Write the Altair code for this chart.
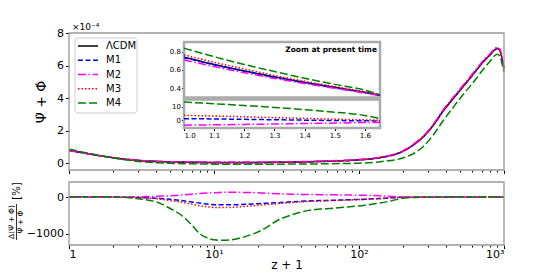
import altair as alt
import pandas as pd

# ---------------- data ----------------
models = ["ΛCDM", "M1", "M2", "M3", "M4"]
line_colors = ["#000000", "#0000ff", "#ff00ff", "#ff0000", "#008000"]
line_dashes = [[1, 0], [5, 2.5], [8, 2.5, 1.5, 2.5], [1.5, 2], [8, 3]]

# main panel: (Psi_dot + Phi_dot) in units of 1e-4 versus z+1
z_main = [1, 1.3, 1.6, 2, 2.5, 3, 4, 5, 7, 10, 14, 20, 30, 45, 65, 100, 140, 200,
          240, 280, 330, 380, 440, 500, 580, 650, 730, 800, 860, 900, 940, 970, 1000]
main_lcdm = [0.78, 0.60, 0.46, 0.33, 0.22, 0.16, 0.10, 0.07, 0.05, 0.035, 0.03, 0.035, 0.05,
             0.08, 0.12, 0.20, 0.34, 0.72, 1.15, 1.65, 2.40, 3.20, 3.90, 4.50, 5.20, 5.75,
             6.30, 6.65, 6.95, 7.05, 6.90, 6.40, 5.80]
main_m1 = [0.77, 0.60, 0.46, 0.33, 0.22, 0.15, 0.09, 0.06, 0.04, 0.02, 0.02, 0.025, 0.045,
           0.075, 0.115, 0.19, 0.33, 0.71, 1.14, 1.64, 2.39, 3.19, 3.90, 4.50, 5.20, 5.75,
           6.30, 6.65, 6.95, 7.05, 6.90, 6.40, 5.80]
main_m2 = [0.76, 0.59, 0.46, 0.33, 0.23, 0.17, 0.11, 0.08, 0.07, 0.06, 0.06, 0.06, 0.07,
           0.10, 0.14, 0.22, 0.36, 0.75, 1.19, 1.70, 2.46, 3.27, 3.98, 4.58, 5.28, 5.83,
           6.37, 6.72, 7.02, 7.12, 6.97, 6.46, 5.85]
main_m3 = [0.79, 0.61, 0.46, 0.33, 0.22, 0.15, 0.09, 0.05, 0.03, 0.015, 0.015, 0.02, 0.04,
           0.07, 0.11, 0.19, 0.33, 0.71, 1.14, 1.64, 2.39, 3.19, 3.90, 4.50, 5.20, 5.75,
           6.30, 6.65, 6.95, 7.05, 6.90, 6.40, 5.80]
main_m4 = [0.85, 0.64, 0.48, 0.32, 0.18, 0.10, 0.02, -0.02, -0.05, -0.07, -0.08, -0.08, -0.07,
           -0.06, -0.04, -0.01, 0.08, 0.31, 0.60, 1.05, 1.80, 2.60, 3.35, 4.00, 4.70, 5.25,
           5.85, 6.25, 6.60, 6.70, 6.55, 6.10, 5.60]

# lower panel: relative difference in percent
z_diff = [1, 1.5, 2, 2.5, 3, 4, 5, 6, 7, 8, 9, 10, 11, 13, 15, 18, 22, 28, 35, 45, 60, 80,
          110, 140, 170, 200, 250, 300, 500, 1000]
diff_m1 = [1, 0.5, 0, -3, -10, -30, -60, -95, -130, -165, -190, -205, -210, -210, -205, -190,
           -170, -150, -125, -105, -90, -75, -58, -38, -18, -4, 0, 0, 0, 0]
diff_m2 = [-3.5, -2, 0, 3, 8, 20, 38, 58, 80, 98, 110, 120, 127, 132, 130, 122, 108, 88, 78,
           70, 64, 58, 48, 34, 17, 5, 0, 0, 0, 0]
diff_m3 = [3.5, 2, 0.5, -4, -15, -45, -90, -140, -190, -235, -265, -280, -285, -280, -265,
           -240, -210, -175, -145, -118, -100, -82, -60, -36, -16, -4, 0, 0, 0, 0]
diff_m4 = [13, 8, 3, -10, -45, -130, -310, -500, -750, -1000, -1110, -1160, -1170, -1160,
           -1115, -1020, -870, -615, -470, -360, -315, -275, -220, -160, -95, -30, -8, -2, 0, 0]

# inset: zoom at present time
z_zoom = [1.0, 1.1, 1.2, 1.3, 1.4, 1.5, 1.6, 1.65]
zoom_lcdm = [0.74, 0.66, 0.59, 0.525, 0.465, 0.41, 0.355, 0.325]
zoom_m1 = [0.735, 0.657, 0.587, 0.522, 0.462, 0.408, 0.354, 0.325]
zoom_m2 = [0.71, 0.637, 0.57, 0.508, 0.452, 0.40, 0.348, 0.32]
zoom_m3 = [0.765, 0.684, 0.61, 0.54, 0.477, 0.42, 0.362, 0.33]
zoom_m4 = [0.837, 0.745, 0.66, 0.583, 0.51, 0.443, 0.38, 0.33]
zdiff_m1 = [1.2, 1.0, 0.7, 0.4, 0.1, -0.2, -0.4, -0.5]
zdiff_m2 = [-3.7, -3.4, -3.1, -2.8, -2.4, -2.1, -1.7, -1.5]
zdiff_m3 = [3.7, 3.2, 2.6, 2.0, 1.4, 0.8, 0.3, 0.0]
zdiff_m4 = [13.7, 12.4, 11.1, 9.6, 8.0, 6.1, 3.6, 1.2]

x_ticks = [1, 2, 3, 4, 5, 6, 7, 8, 9, 10, 20, 30, 40, 50, 60, 70, 80, 90,
           100, 200, 300, 400, 500, 600, 700, 800, 900, 1000]
main_yticks = [0, 2, 4, 6, 8]
diff_yticks = [0, -1000]
zoom_xticks = [1.0, 1.1, 1.2, 1.3, 1.4, 1.5, 1.6]
zoom_top_yticks = [0.4, 0.6, 0.8]
zoom_bot_yticks = [0, 10]


def long(xs, series):
    rows = []
    for name, ys in series.items():
        for x, y in zip(xs, ys):
            rows.append({"x": x, "y": y, "model": name})
    return pd.DataFrame(rows)


main_df = long(z_main, {"ΛCDM": main_lcdm, "M1": main_m1, "M2": main_m2, "M3": main_m3, "M4": main_m4})
diff_df = long(z_diff, {"M1": diff_m1, "M2": diff_m2, "M3": diff_m3, "M4": diff_m4})
ztop_df = long(z_zoom, {"ΛCDM": zoom_lcdm, "M1": zoom_m1, "M2": zoom_m2, "M3": zoom_m3, "M4": zoom_m4})
zbot_df = long(z_zoom, {"M1": zdiff_m1, "M2": zdiff_m2, "M3": zdiff_m3, "M4": zdiff_m4})
legend_df = pd.DataFrame({"model": models})

# ---------------- styling ----------------
FONT = "DejaVu Sans"
W, H = 435, 212
color_enc = alt.Color("model:N", scale=alt.Scale(domain=models, range=line_colors), legend=None)
dash_enc = alt.StrokeDash("model:N", scale=alt.Scale(domain=models, range=line_dashes), legend=None)

major_test = "datum.value == 1 || datum.value == 10 || datum.value == 100 || datum.value == 1000"
tick_size_log = {"condition": {"test": major_test, "value": 3.5}, "value": 2}

logx = alt.Scale(type="log", domain=[1, 1000], range=[0, W])
main_ys = alt.Scale(domain=[-0.43, 8], range=[137, 0])
diff_ys = alt.Scale(domain=[-1300, 410], range=[H, 149])
zoom_xs = alt.Scale(domain=[1.0, 1.65], range=[115, 311])
ztop_ys = alt.Scale(domain=[0.3, 0.905], range=[64.5, 9])
zbot_ys = alt.Scale(domain=[-5.8, 15.6], range=[95, 66.5])

ax_common = dict(domain=False, grid=False, labelColor="black", tickColor="black",
                 labelFont=FONT, titleFont=FONT, titleColor="black")

main_xaxis = alt.Axis(orient="bottom", offset=-(H - 137), values=x_ticks, labels=False,
                      tickSize=tick_size_log, title=None, **ax_common)
main_yaxis = alt.Axis(orient="left", values=main_yticks, format="d", title="Ψ̇ + Φ̇",
                      titleFontSize=14, titleFontWeight="normal", labelFontSize=11,
                      tickSize=3.5, titlePadding=8, **ax_common)
diff_xaxis = alt.Axis(orient="bottom", values=x_ticks, tickSize=tick_size_log,
                      labelExpr="datum.value == 1 ? '1' : datum.value == 10 ? '10¹' : datum.value == 100 ? '10²' : datum.value == 1000 ? '10³' : ''",
                      labelFontSize=11, labelPadding=0, title="z + 1", titleFontSize=12,
                      titleFontWeight="normal", titlePadding=0, **ax_common)
diff_yaxis = alt.Axis(orient="left", values=diff_yticks, format="d", title=None,
                      labelFontSize=11, tickSize=3.5, **ax_common)
zoom_xaxis = alt.Axis(orient="bottom", offset=-(H - 95), values=zoom_xticks, format=".1f",
                      labelFontSize=7, tickSize=2.5, labelPadding=1, title=None, **ax_common)
ztop_yaxis = alt.Axis(orient="left", offset=-115, values=zoom_top_yticks, format=".1f",
                      labelFontSize=7, tickSize=2.5, labelPadding=1, title=None, **ax_common)
zbot_yaxis = alt.Axis(orient="left", offset=-115, values=zoom_bot_yticks, format="d",
                      labelFontSize=7, tickSize=2.5, labelPadding=1, title=None, **ax_common)
no_axis = None


def panel(df, xs, ys, xaxis, yaxis, box, stroke, swidth, fill_white, texts=None):
    X = alt.X("x:Q", scale=xs, axis=xaxis)
    Y = alt.Y("y:Q", scale=ys, axis=yaxis)
    layers = []
    frame_df = pd.DataFrame([{"x": box[0], "x2": box[1], "y": box[2], "y2": box[3]}])
    if fill_white:
        layers.append(alt.Chart(frame_df).mark_rect(fill="white", stroke=stroke, strokeWidth=swidth)
                      .encode(x=X, x2="x2:Q", y=Y, y2="y2:Q"))
    layers.append(alt.Chart(df).mark_line(strokeWidth=1.5, interpolate="monotone")
                  .encode(x=X, y=Y, color=color_enc, strokeDash=dash_enc))
    if not fill_white:
        layers.append(alt.Chart(frame_df).mark_rect(fillOpacity=0, stroke=stroke, strokeWidth=swidth)
                      .encode(x=X, x2="x2:Q", y=Y, y2="y2:Q"))
    if texts:
        for t in texts:
            tdf = pd.DataFrame([{"x": t["x"], "y": t["y"], "label": t["label"]}])
            layers.append(alt.Chart(tdf).mark_text(**t["style"])
                          .encode(x=X, y=Y, text="label:N"))
    return alt.layer(*layers)


main_panel = panel(main_df, logx, main_ys, main_xaxis, main_yaxis, [1, 1000, -0.43, 8],
                   "#999999", 1.3, False,
                   texts=[{"x": 1, "y": 8, "label": "×10⁻⁴",
                           "style": dict(align="left", baseline="bottom", dx=3, dy=-1,
                                         fontSize=9, font=FONT, color="black")}])
diff_panel = panel(diff_df, logx, diff_ys, diff_xaxis, diff_yaxis, [1, 1000, -1300, 410],
                   "#999999", 1.3, False)
ztop_panel = panel(ztop_df, zoom_xs, ztop_ys, no_axis, ztop_yaxis, [1.0, 1.65, 0.3, 0.905],
                   "#aaaaaa", 2.5, True,
                   texts=[{"x": 1.64, "y": 0.82, "label": "Zoom at present time",
                           "style": dict(align="right", baseline="middle", fontSize=7.5,
                                         fontWeight="bold", font=FONT, color="black")}])
zbot_panel = panel(zbot_df, zoom_xs, zbot_ys, zoom_xaxis, zbot_yaxis, [1.0, 1.65, -5.8, 15.6],
                   "#aaaaaa", 2.5, True)

# legend (drawn from the model list through a point scale)
leg_y = alt.Y("model:N", scale=alt.Scale(type="point", domain=models, range=[13, 70], padding=0),
              axis=None)
one = pd.DataFrame([{"a": 0}])
leg_box = alt.Chart(one).mark_rect(fill="white", stroke="#cccccc", strokeWidth=1,
                                   cornerRadius=3).encode(
    x=alt.value(6), x2=alt.value(68), y=alt.value(5), y2=alt.value(80))
leg_lines = alt.Chart(legend_df).mark_rule(strokeWidth=1.5).encode(
    x=alt.value(9), x2=alt.value(29), y=leg_y, color=color_enc, strokeDash=dash_enc)
leg_text = alt.Chart(legend_df).mark_text(align="left", baseline="middle", fontSize=10,
                                          font=FONT, color="black").encode(
    x=alt.value(37), y=leg_y, text="model:N")
legend_layer = alt.layer(leg_box, leg_lines, leg_text)

# y label of the lower panel (a fraction followed by [%])
num = alt.Chart(one).mark_text(text="Δ(Ψ̇ + Φ̇)", angle=270, fontSize=7.5, font=FONT,
                               color="black", align="center", baseline="middle").encode(
    x=alt.value(-57), y=alt.value(189))
den = alt.Chart(one).mark_text(text="Ψ̇ + Φ̇", angle=270, fontSize=7.5, font=FONT,
                               color="black", align="center", baseline="middle").encode(
    x=alt.value(-48.5), y=alt.value(189))
bar = alt.Chart(one).mark_rule(color="black", strokeWidth=0.8).encode(
    x=alt.value(-52.5), y=alt.value(171), y2=alt.value(207))
pct = alt.Chart(one).mark_text(text="[%]", angle=270, fontSize=10, font=FONT,
                               color="black", align="center", baseline="middle").encode(
    x=alt.value(-52.5), y=alt.value(158))

chart = alt.layer(main_panel, diff_panel, ztop_panel, zbot_panel, legend_layer,
                  num, den, bar, pct).resolve_scale(
    x="independent", y="independent"
).properties(
    width=W, height=H,
    autosize=alt.AutoSizeParams(type="none"),
    padding={"left": 61, "top": 25, "right": 48, "bottom": 34},
).configure(font=FONT).configure_view(stroke=None)

chart.save("out.html", embed_options={"renderer": "svg", "actions": False})
